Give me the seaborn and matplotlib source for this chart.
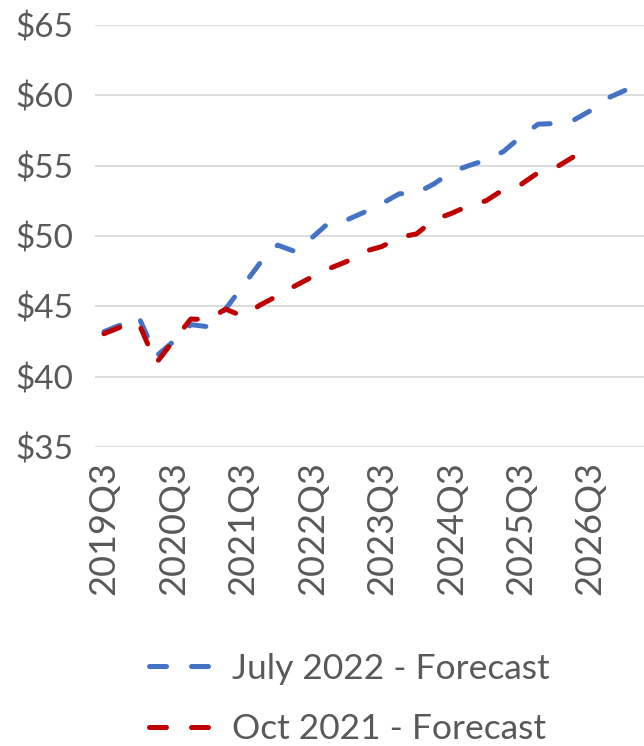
import matplotlib
matplotlib.use("Agg")
import matplotlib.pyplot as plt
import seaborn as sns
import pandas as pd

# ---- data ----
quarters = ["2019Q3", "2019Q4", "2020Q1", "2020Q2", "2020Q3", "2020Q4",
            "2021Q1", "2021Q2", "2021Q3", "2021Q4", "2022Q1", "2022Q2",
            "2022Q3", "2022Q4", "2023Q1", "2023Q2", "2023Q3", "2023Q4",
            "2024Q1", "2024Q2", "2024Q3", "2024Q4", "2025Q1", "2025Q2",
            "2025Q3", "2025Q4", "2026Q1", "2026Q2", "2026Q3", "2026Q4",
            "2027Q1"]
july_2022 = [43.2, 43.7, 44.25, 41.45, 42.5, 43.7, 43.55, 44.8, 46.45, 48.1,
             49.35, 48.9, 49.9, 51.0, 51.15, 51.7, 52.3, 53.0, 53.05, 53.7,
             54.55, 55.0, 55.4, 56.0, 57.05, 57.95, 58.0, 58.2, 58.9, 59.8,
             60.35]
oct_2021 = [43.05, 43.55, 43.8, 40.95, 42.55, 44.1, 44.05, 44.8, 44.3, 45.1,
            45.75, 46.45, 47.1, 47.7, 48.2, 48.9, 49.25, 49.9, 50.15, 51.15,
            51.6, 52.15, 52.5, 53.3, 53.65, 54.5, 54.85, 55.6]
series_names = ["July 2022 - Forecast", "Oct 2021 - Forecast"]
y_ticks = [35, 40, 45, 50, 55, 60, 65]
x_tick_labels = ["2019Q3", "2020Q3", "2021Q3", "2022Q3", "2023Q3",
                 "2024Q3", "2025Q3", "2026Q3"]

df = pd.concat([
    pd.DataFrame({"quarter": quarters[:len(july_2022)], "price": july_2022,
                  "series": series_names[0]}),
    pd.DataFrame({"quarter": quarters[:len(oct_2021)], "price": oct_2021,
                  "series": series_names[1]}),
], ignore_index=True)
df["pos"] = df["quarter"].map({q: i for i, q in enumerate(quarters)})

# ---- style ----
sns.set_theme(style="white")
plt.rcParams["font.family"] = ["Lato", "DejaVu Sans"]
text_color = "#595959"
grid_color = "#d9d9d9"
colors = {series_names[0]: "#4472C4", series_names[1]: "#C00000"}

fig = plt.figure(figsize=(6.44, 7.46), dpi=100)
ax = fig.add_axes([95.3 / 644, 299 / 746, (644 - 95.3) / 644, 422 / 746])

sns.lineplot(data=df, x="pos", y="price", hue="series", style="series",
             palette=colors,
             dashes={series_names[0]: (3.4, 5.0), series_names[1]: (3.4, 5.0)},
             linewidth=3.6, dash_capstyle="round", legend=False, ax=ax,
             sort=False)

ax.set_ylim(35, 65)
ax.set_xlim(-0.5, 31.1)
ax.set_yticks(y_ticks)
ax.set_yticklabels([f"${v}" for v in y_ticks])
ax.set_xticks([quarters.index(q) for q in x_tick_labels])
ax.set_xticklabels(x_tick_labels, rotation=90)
ax.set_xlabel("")
ax.set_ylabel("")
ax.grid(axis="y", color=grid_color, linewidth=1.3)
ax.grid(axis="x", visible=False)
ax.set_axisbelow(True)
for s in ax.spines.values():
    s.set_visible(False)
ax.tick_params(axis="both", length=0, colors=text_color)
ax.tick_params(axis="y", pad=16, labelsize=24)
ax.tick_params(axis="x", pad=10, labelsize=26)

handles = ax.get_lines()[:2]
leg = fig.legend(handles, series_names, loc="center left",
                 bbox_to_anchor=(149 / 644, 1 - 699 / 746),
                 frameon=False, fontsize=25.5, handlelength=1.98,
                 handletextpad=0.37, labelspacing=0.8, borderpad=0,
                 borderaxespad=0)
for t in leg.get_texts():
    t.set_color(text_color)

fig.savefig("out.png", dpi=100)
